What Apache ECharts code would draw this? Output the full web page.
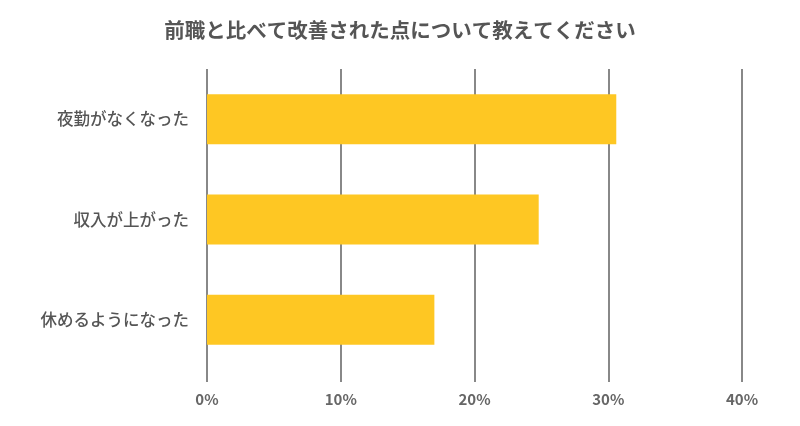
<!DOCTYPE html>
<html>
<head>
<meta charset="utf-8">
<script src="https://cdn.jsdelivr.net/npm/echarts@6/dist/echarts.min.js"></script>
<style>
html,body{
    margin:0;
    padding:0;
    background:#fff;
}
#chart{
    width:800px;
    height:426px;
}
</style>
</head>
<body>
<div id="chart"></div>
<script type="text/javascript">
    // データ
    var categories = ['夜勤がなくなった', '収入が上がった', '休めるようになった'];
    var values = [30.6, 24.8, 17.0];
    var titleText = '前職と比べて改善された点について教えてください';

    var font = '"Noto Sans CJK JP", "Noto Sans", sans-serif';
    var myChart = echarts.init(document.getElementById('chart'));
    var option = {
        backgroundColor: '#fff',
        animation: false,
        title: {
            text: titleText,
            left: 'center',
            top: 15,
            textStyle: {
                fontFamily: font,
                fontSize: 20.5,
                fontWeight: 'bold',
                color: '#555'
            }
        },
        grid: {
            left: 207,
            right: 58,
            top: 69,
            bottom: 56
        },
        xAxis: {
            type: 'value',
            min: 0,
            max: 40,
            interval: 10,
            axisLine: {show: false},
            axisTick: {
                show: true,
                length: 12,
                lineStyle: {color: '#888', width: 2}
            },
            splitLine: {
                show: true,
                lineStyle: {color: '#888', width: 2}
            },
            axisLabel: {
                margin: 22,
                formatter: '{value}%',
                fontFamily: font,
                fontSize: 15,
                fontWeight: 'bold',
                color: '#666'
            }
        },
        yAxis: {
            type: 'category',
            inverse: true,
            data: categories,
            axisLine: {show: false},
            axisTick: {show: false},
            axisLabel: {
                margin: 18,
                fontFamily: font,
                fontSize: 16.5,
                fontWeight: 500,
                color: '#555'
            }
        },
        series: [
            {
                type: 'bar',
                data: values,
                barWidth: 50,
                itemStyle: {color: '#FEC723'}
            }
        ]
    };
    myChart.setOption(option);
</script>
</body>
</html>
